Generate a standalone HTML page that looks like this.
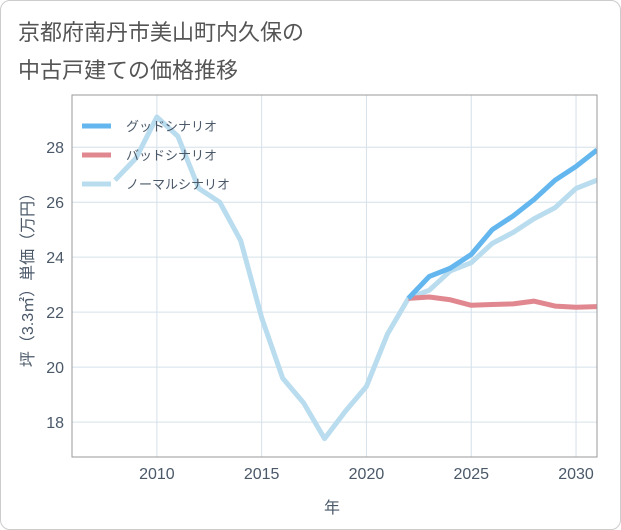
<!DOCTYPE html>
<html><head><meta charset="utf-8"><style>
body{margin:0;background:#fff;font-family:"Liberation Sans","Noto Sans CJK JP",sans-serif;}
#card{position:absolute;left:0;top:0;width:619px;height:528px;border:1px solid #ccc;border-radius:10px;background:#fff;}
</style></head><body>
<div id="card">
<svg id="chart" width="621" height="530" style="position:absolute;left:-1px;top:-1px">
<text x="18" y="40" font-size="22" fill="#555">京都府南丹市美山町内久保の</text>
<text x="18" y="78" font-size="22" fill="#555">中古戸建ての価格推移</text>
<g id="grid"></g>
<g id="lines"></g>
<g id="axes"></g>
<text x="332" y="513" font-size="16" fill="#4a5868" text-anchor="middle">年</text>
<text transform="translate(33,276) rotate(-90)" font-size="16" fill="#4a5868" text-anchor="middle">坪（3.3㎡）単価（万円）</text>
</svg>
</div>
<script>
const years=[2008,2009,2010,2011,2012,2013,2014,2015,2016,2017,2018,2019,2020,2021,2022,2023,2024,2025,2026,2027,2028,2029,2030,2031];
const normal=[26.8,27.6,29.1,28.4,26.5,26.0,24.6,21.8,19.6,18.7,17.4,18.4,19.3,21.2,22.5,22.8,23.5,23.8,24.5,24.9,25.4,25.8,26.5,26.8];
const goodYears=[2022,2023,2024,2025,2026,2027,2028,2029,2030,2031];
const good=[22.5,23.3,23.6,24.1,25.0,25.5,26.1,26.8,27.3,27.9];
const bad=[22.5,22.55,22.45,22.25,22.28,22.3,22.4,22.22,22.18,22.2];
const xTicks=[2010,2015,2020,2025,2030];
const yTicks=[18,20,22,24,26,28];
const L=72,R=597,T=95,B=457;
const xMin=2005.95,xMax=2031,yMin=16.73,yMax=29.9;
const X=v=>L+(v-xMin)/(xMax-xMin)*(R-L);
const Y=v=>B-(v-yMin)/(yMax-yMin)*(B-T);
const NS="http://www.w3.org/2000/svg";
function mk(tag,attrs,parent){const e=document.createElementNS(NS,tag);for(const k in attrs)e.setAttribute(k,attrs[k]);parent.appendChild(e);return e;}
const grid=document.getElementById('grid'),lines=document.getElementById('lines'),axes=document.getElementById('axes');
xTicks.forEach(t=>{const l=mk('line',{x1:X(t),x2:X(t),y1:T,y2:B,stroke:'#d5e0ea','stroke-width':1},grid);

const tx=mk('text',{x:X(t),y:B+22,'font-size':16,fill:'#4a5868','text-anchor':'middle'},axes);tx.textContent=t;
});
yTicks.forEach(t=>{const l=mk('line',{x1:L,x2:R,y1:Y(t),y2:Y(t),stroke:'#d5e0ea','stroke-width':1},grid);

const tx=mk('text',{x:L-8,y:Y(t)+6,'font-size':16,fill:'#4a5868','text-anchor':'end'},axes);tx.textContent=t;
});
const fr=mk('rect',{x:L,y:T,width:R-L,height:B-T,fill:'none',stroke:'#999','stroke-width':1},axes);

function series(xs,vs,color,name){const p=mk('polyline',{points:xs.map((x,i)=>X(x)+','+Y(vs[i])).join(' '),fill:'none',stroke:color,'stroke-width':5,'stroke-linejoin':'round'},lines);
}
const clip=mk('clipPath',{id:'pc'},document.getElementById('chart'));mk('rect',{x:L,y:T,width:R-L,height:B-T},clip);
lines.setAttribute('clip-path','url(#pc)');
series(years,normal,'#b9dcee','normal-scenario-line');
series(goodYears,bad,'#e0878f','bad-scenario-line');
series(goodYears,good,'#63b6ee','good-scenario-line');
const leg=[['グッドシナリオ','#63b6ee'],['バッドシナリオ','#e0878f'],['ノーマルシナリオ','#b9dcee']];
leg.forEach((d,i)=>{const y=126+i*29;
const g=mk('g',{},axes);
mk('line',{x1:82,x2:111,y1:y,y2:y,stroke:d[1],'stroke-width':5},g);
const t=mk('text',{x:126,y:y+5,'font-size':13,fill:'#4a5868'},g);t.textContent=d[0];});
</script>
</body></html>
